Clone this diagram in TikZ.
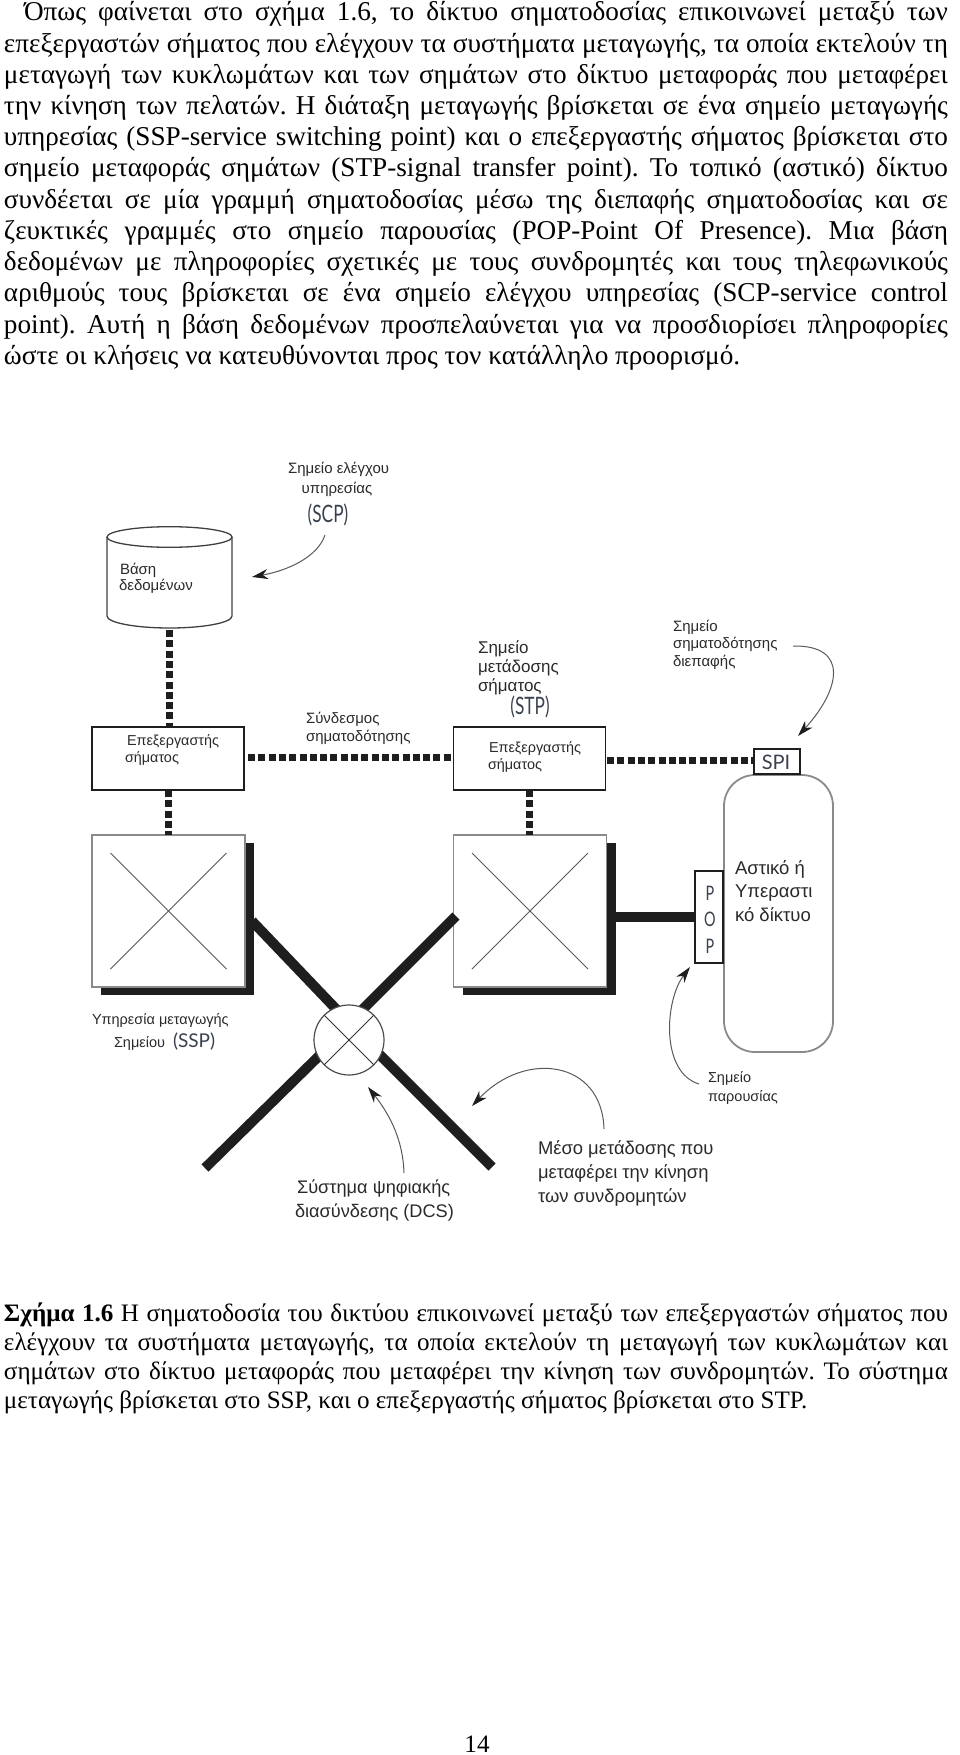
\documentclass[tikz,border=0pt]{standalone}
\usepackage{fontspec}
\setmainfont{Liberation Serif}
\setsansfont{Liberation Sans}
\newfontfamily\tagfont[FakeStretch=0.72]{Lato}
\newfontfamily\widetagfont{Lato}
\usetikzlibrary{arrows.meta}
\definecolor{ink}{HTML}{1E1E1E}
\definecolor{soft}{HTML}{2A2A2A}
\definecolor{tagc}{HTML}{3A4250}
\definecolor{edge}{HTML}{8A8A8A}
\tikzset{
  x=1pt,y=-1pt,
  bodyline/.style={anchor=base west,inner sep=0pt,outer sep=0pt,text=black,font=\rmfamily\fontsize{27.2}{27.2}\selectfont\frenchspacing},
  capline/.style={anchor=base west,inner sep=0pt,outer sep=0pt,text=black,font=\rmfamily\fontsize{25.1}{25.1}\selectfont\frenchspacing},
  lbl/.style={anchor=base west,inner sep=0pt,outer sep=0pt,text=soft,font=\sffamily\fontsize{#1}{#1}\selectfont},
  tag/.style={anchor=base,inner sep=0pt,outer sep=0pt,text=tagc,font=\tagfont\fontsize{#1}{#1}\selectfont},
  widetag/.style={anchor=base,inner sep=0pt,outer sep=0pt,text=tagc,font=\widetagfont\fontsize{#1}{#1}\selectfont},
  procbox/.style={draw=ink,line width=1.2pt,fill=white,inner sep=0pt,outer sep=0pt,minimum width=152pt,minimum height=63pt},
  swbox/.style={draw=edge,line width=1.2pt,fill=white,inner sep=0pt,outer sep=0pt,minimum width=153pt,minimum height=152pt},
  swshadow/.style={fill=ink,inner sep=0pt,outer sep=0pt,minimum width=153pt,minimum height=152pt},
  smallbox/.style={draw=ink,line width=1.2pt,fill=white,inner sep=0pt,outer sep=0pt},
  sig/.style={line width=7pt,draw=ink,dash pattern=on 7pt off 3.3pt},
  trunk/.style={line width=10pt,draw=ink},
  crossline/.style={draw=black!65,line width=1pt},
  note/.style={draw=black!65,line width=1pt,-{Stealth[length=16pt,width=10pt,inset=5pt,color=ink]}}
}
\begin{document}
\begin{tikzpicture}
\useasboundingbox (0,0) rectangle (960,1755);
% body text
\node[bodyline] (l1) at (24,21) {\makebox[924pt][s]{Όπως φαίνεται στο σχήμα 1.6, το δίκτυο σηματοδοσίας επικοινωνεί μεταξύ των}};
\node[bodyline] (l2) at (4,52.2) {\makebox[944pt][s]{επεξεργαστών σήματος που ελέγχουν τα συστήματα μεταγωγής, τα οποία εκτελούν τη}};
\node[bodyline] (l3) at (4,83.4) {\makebox[944pt][s]{μεταγωγή των κυκλωμάτων και των σημάτων στο δίκτυο μεταφοράς που μεταφέρει}};
\node[bodyline] (l4) at (4,114.6) {\makebox[944pt][s]{την κίνηση των πελατών. Η διάταξη μεταγωγής βρίσκεται σε ένα σημείο μεταγωγής}};
\node[bodyline] (l5) at (4,145.8) {\makebox[944pt][s]{υπηρεσίας (SSP-service switching point) και ο επεξεργαστής σήματος βρίσκεται στο}};
\node[bodyline] (l6) at (4,177) {\makebox[944pt][s]{σημείο μεταφοράς σημάτων (STP-signal transfer point). Το τοπικό (αστικό) δίκτυο}};
\node[bodyline] (l7) at (4,208.2) {\makebox[944pt][s]{συνδέεται σε μία γραμμή σηματοδοσίας μέσω της διεπαφής σηματοδοσίας και σε}};
\node[bodyline] (l8) at (4,239.4) {\makebox[944pt][s]{ζευκτικές γραμμές στο σημείο παρουσίας (POP-Point Of Presence). Μια βάση}};
\node[bodyline] (l9) at (4,270.6) {\makebox[944pt][s]{δεδομένων με πληροφορίες σχετικές με τους συνδρομητές και τους τηλεφωνικούς}};
\node[bodyline] (l10) at (4,301.8) {\makebox[944pt][s]{αριθμούς τους βρίσκεται σε ένα σημείο ελέγχου υπηρεσίας (SCP-service control}};
\node[bodyline] (l11) at (4,333) {\makebox[944pt][s]{point). Αυτή η βάση δεδομένων προσπελαύνεται για να προσδιορίσει πληροφορίες}};
\node[bodyline] (l12) at (4,364.2) {ώστε οι κλήσεις να κατευθύνονται προς τον κατάλληλο προορισμό.};
% caption
\node[capline] (c1) at (4,1321) {\makebox[944pt][s]{\textbf{Σχήμα 1.6} Η σηματοδοσία του δικτύου επικοινωνεί μεταξύ των επεξεργαστών σήματος που}};
\node[capline] (c2) at (4,1350) {\makebox[944pt][s]{ελέγχουν τα συστήματα μεταγωγής, τα οποία εκτελούν τη μεταγωγή των κυκλωμάτων και}};
\node[capline] (c3) at (4,1379) {\makebox[944pt][s]{σημάτων στο δίκτυο μεταφοράς που μεταφέρει την κίνηση των συνδρομητών. Το σύστημα}};
\node[capline] (c4) at (4,1408) {μεταγωγής βρίσκεται στο SSP, και ο επεξεργαστής σήματος βρίσκεται στο STP.};
\node[capline,anchor=base] (pg) at (477,1752) {14};
% free ends
\coordinate (dbbot) at (169,628);
\coordinate (tl0) at (252,921);
\coordinate (tl1) at (337,1010);
\coordinate (tr0) at (456,916);
\coordinate (tr1) at (362,1010);
\coordinate (bl0) at (205,1168);
\coordinate (bl1) at (320,1055);
\coordinate (br0) at (492,1167);
\coordinate (br1) at (379,1054);
% capsule network
\node[draw=edge,line width=1.8pt,rounded corners=31pt,fill=white,inner sep=0pt,outer sep=0pt,minimum width=109pt,minimum height=277pt] (net) at (778.5,913.5) {};
% processors
\node[procbox] (p1) at (168,758.5) {};
\node[procbox] (p2) at (529.5,758.5) {};
% switches
\node[swshadow] (s1s) at (177.5,919) {};
\node[swshadow] (s2s) at (539,919) {};
\node[swbox] (s1) at (168.5,911) {};
\node[swbox] (s2) at (530,911) {};
\draw[crossline] ([shift={(-58,-58)}]s1.center) -- ([shift={(58,58)}]s1.center);
\draw[crossline] ([shift={(-58,58)}]s1.center) -- ([shift={(58,-58)}]s1.center);
\draw[crossline] ([shift={(-58,-58)}]s2.center) -- ([shift={(58,58)}]s2.center);
\draw[crossline] ([shift={(-58,58)}]s2.center) -- ([shift={(58,-58)}]s2.center);
% trunks
\draw[trunk] (tl0) -- (tl1);
\draw[trunk] (tr0) -- (tr1);
\draw[trunk] (bl0) -- (bl1);
\draw[trunk] (br0) -- (br1);
% DCS
\node[circle,draw=black!70,line width=1.2pt,fill=white,inner sep=0pt,outer sep=0pt,minimum size=70pt] (dcs) at (349,1040) {};
\draw[draw=black!80,line width=1pt] (dcs.135) -- (dcs.-45);
\draw[draw=black!80,line width=1pt] (dcs.45) -- (dcs.-135);
% small boxes
\node[smallbox,minimum width=46pt,minimum height=25pt] (spi) at (777,761.5) {};
\node[smallbox,minimum width=28pt,minimum height=92pt] (pop) at (709,917) {};
\draw[trunk] (s2s.east |- pop.west) -- (pop.west);
% signalling links
\draw[sig] (169,630) -- (169,727);
\draw[sig] (168,790) -- (168,835);
\draw[sig] (248,757) -- (p2.west |- 0,757);
\draw[sig] (529,790) -- (529,835);
\draw[sig] (607,760) -- (spi.west |- 0,760);
% database
\draw[draw=black!75,line width=1.3pt,fill=white] (107,537) -- (107,616) arc[start angle=180,end angle=360,x radius=62.5pt,y radius=12pt] -- (232,537);
\draw[draw=black!75,line width=1.3pt,fill=white] (169.5,537) ellipse[x radius=62.5pt,y radius=10.3pt];
\node[lbl=15] (dbt1) at (120,574) {Βάση};
\node[lbl=15] (dbt2) at (119,590) {δεδομένων};
% processor text
\node[lbl=14.4] (p1t1) at (127,745) {Επεξεργαστής};
\node[lbl=14.4] (p1t2) at (125,762) {σήματος};
\node[lbl=14.4] (p2t1) at (489,752) {Επεξεργαστής};
\node[lbl=14.4] (p2t2) at (488,769) {σήματος};
% labels
\node[lbl=15] (scp1) at (288,473) {Σημείο ελέγχου};
\node[lbl=15,anchor=base] (scp2) at (337,493) {υπηρεσίας};
\node[tag=24] (scp3) at (328,522) {(SCP)};
\node[lbl=15] (lnk1) at (306,723) {Σύνδεσμος};
\node[lbl=15] (lnk2) at (306,741) {σηματοδότησης};
\node[lbl=17] (stp1) at (478,653) {Σημείο};
\node[lbl=17] (stp2) at (478,672) {μετάδοσης};
\node[lbl=17] (stp3) at (478,691) {σήματος};
\node[tag=24] (stp4) at (530,714) {(STP)};
\node[lbl=15] (spl1) at (673,631) {Σημείο};
\node[lbl=15] (spl2) at (673,648) {σηματοδότησης};
\node[lbl=15] (spl3) at (673,666) {διεπαφής};
\node[widetag=20] (spit) at (776,769) {SPI};
\node[tag=20] (pop1) at (710,900) {P};
\node[tag=20] (pop2) at (710,926) {O};
\node[tag=20] (pop3) at (710,953) {P};
\node[lbl=18.5] (nt1) at (735,874) {Αστικό ή};
\node[lbl=18.5] (nt2) at (735,897) {Υπεραστι};
\node[lbl=18.5] (nt3) at (735,921) {κό δίκτυο};
\node[lbl=14.5] (ssp1) at (92,1024) {Υπηρεσία μεταγωγής};
\node[lbl=14.5] (ssp2) at (114,1047) {Σημείου};
\node[widetag=19,anchor=base west] (ssp3) at (173,1047) {(SSP)};
\node[lbl=18.2] (dcs1) at (297,1193) {Σύστημα ψηφιακής};
\node[lbl=18.2] (dcs2) at (295,1217) {διασύνδεσης (DCS)};
\node[lbl=18.4] (med1) at (538,1154) {Μέσο μετάδοσης που};
\node[lbl=18.4] (med2) at (538,1178) {μεταφέρει την κίνηση};
\node[lbl=18.4] (med3) at (538,1202) {των συνδρομητών};
\node[lbl=14.5] (pp1) at (708,1082) {Σημείο};
\node[lbl=14.5] (pp2) at (708,1101) {παρουσίας};
% note arrows
\coordinate (a1s) at (325,535); \coordinate (a1e) at (252,577);
\coordinate (a2s) at (793,646); \coordinate (a2e) at (798,736);
\coordinate (a3s) at (699,1084); \coordinate (a3e) at (690,967);
\coordinate (a4s) at (404,1173); \coordinate (a4e) at (368,1087);
\coordinate (a5s) at (604,1129); \coordinate (a5e) at (472,1106);
\draw[note] (a1s) .. controls (318,556) and (290,570) .. (a1e);
\draw[note] (a2s) .. controls (850,645) and (840,690) .. (a2e);
\draw[note] (a3s) .. controls (660,1072) and (665,1000) .. (a3e);
\draw[note] (a4s) .. controls (403,1140) and (390,1115) .. (a4e);
\draw[note] (a5s) .. controls (602,1060) and (525,1050) .. (a5e);
\end{tikzpicture}
\end{document}
